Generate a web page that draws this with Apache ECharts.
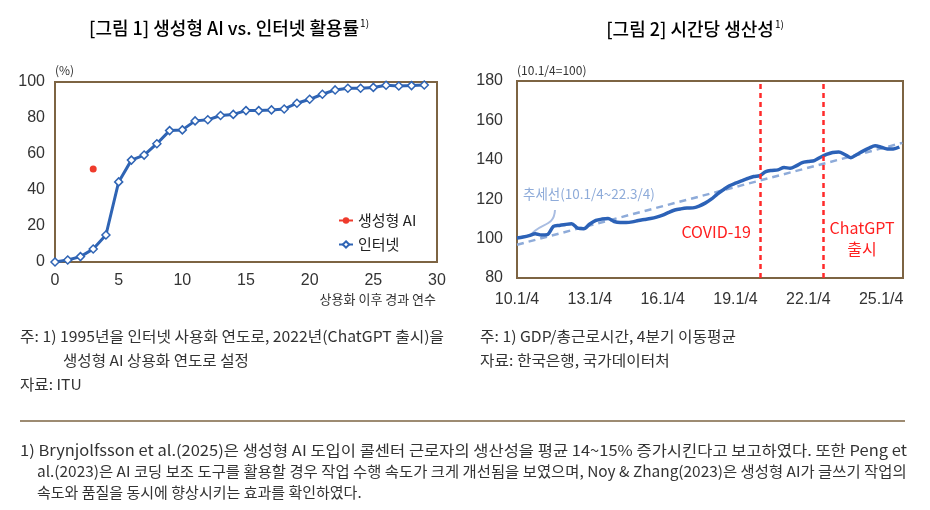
<!DOCTYPE html>
<html>
<head>
<meta charset="utf-8">
<script src="https://cdn.jsdelivr.net/npm/echarts@6/dist/echarts.min.js"></script>
<style>
  html, body { margin: 0; padding: 0; background: #fff; }
  #main { width: 930px; height: 510px; }
</style>
</head>
<body>
<div id="main"></div>
<script>
'use strict'
// [그림 1] 상용화 이후 경과 연수별 활용률 (%)
var yearsSince = [0, 1, 2, 3, 4, 5, 6, 7, 8, 9, 10, 11, 12, 13, 14, 15, 16, 17, 18, 19, 20, 21, 22, 23, 24, 25, 26, 27, 28, 29];
var internetRate = [0, 1.1, 3, 7.2, 15, 44.5, 56.6, 59.4, 65.7, 73, 73.4, 78.4, 79, 81.4, 82, 84.1, 84.1, 84.5, 85,
    88.2, 90.4, 93.2, 95.6, 96.5, 96.5, 97, 98.2, 97.8, 98, 98.3];
var genAiYear = 3;
var genAiRate = 51.7;

// [그림 2] 시간당 생산성 (10.1/4=100), 10.1/4 부터 분기
var productivity = [100.3, 100.8, 101.5, 102.5, 101.8, 102, 106.2, 106.7, 107.2, 107.5,
    105.3, 105, 107.4, 109.2, 109.9, 110.2, 108.7, 108.2, 108.2, 108.5,
    109.2, 109.7, 110.2, 110.9, 111.9, 113.3, 114.5, 115.1, 115.5, 115.6,
    116.5, 118, 120, 122.6, 124.8, 126.8, 128.1, 129.3, 130.5, 131.5,
    132, 134, 134.6, 134.9, 136.1, 135.7, 136.9, 138.6, 139.1, 139.6,
    141.3, 142.7, 143.7, 143.9, 142.7, 141.1, 142.7, 144.4, 145.9, 147.1,
    146.4, 145.5, 145.5, 146.5];
var trendStart = [0, 96.9];
var trendEnd = [63.5, 148.6];
var eventQuarters = [40, 50.4]; // COVID-19, ChatGPT 출시
var firstYear = 10;

var textFont = '"Noto Sans CJK KR", sans-serif';
var numFont = '"Liberation Sans", Arial, sans-serif';
var titleColor = '#7a5a30';
var borderColor = '#7d6443';
var inkColor = '#333333';

var prodData = productivity.map(function (v, i) { return [i, v]; });
var internetData = yearsSince.map(function (y, i) { return [y, internetRate[i]]; });

// 본문 텍스트 (가로 폭 맞춤용 scaleX)
function note(x, y, text, size, sx) {
    return {
        type: 'text', silent: true, x: x, y: y, scaleX: sx || 1,
        style: { x: 0, y: 0, text: text, fontSize: size, fill: inkColor, fontFamily: textFont, verticalAlign: 'middle' }
    };
}

function title(x, y, text) {
    return {
        type: 'text', silent: true,
        style: {
            x: x, y: y, align: 'center', verticalAlign: 'middle',
            text: '{t|' + text + '}{s|1)}',
            rich: {
                t: { fontSize: 18, color: titleColor, fontFamily: textFont, fontWeight: 500 },
                s: { fontSize: 10, color: titleColor, fontFamily: textFont, verticalAlign: 'top', padding: [0, 0, 10, 1] }
            }
        }
    };
}

var option = {
    backgroundColor: '#ffffff',
    animation: false,
    textStyle: { fontFamily: textFont },
    legend: {
        left: 333,
        top: 208,
        orient: 'vertical',
        itemWidth: 14,
        itemHeight: 8,
        itemGap: 9,
        textStyle: { fontSize: 15, color: '#222', fontFamily: textFont },
        data: ['생성형 AI', '인터넷']
    },
    grid: [
        { left: 55, top: 82, width: 382, height: 180, show: true, borderColor: borderColor, borderWidth: 2, backgroundColor: '#fff' },
        { left: 517, top: 81, width: 386, height: 197, show: true, borderColor: borderColor, borderWidth: 2, backgroundColor: '#fff' }
    ],
    xAxis: [
        {
            gridIndex: 0, type: 'value', min: 0, max: 30, interval: 5,
            axisLine: { show: false }, axisTick: { show: false }, splitLine: { show: false },
            axisLabel: { fontSize: 16, color: inkColor, margin: 11, fontFamily: numFont }
        },
        {
            gridIndex: 1, type: 'value', min: 0, max: 63.6, interval: 12,
            axisLine: { show: false }, axisTick: { show: false }, splitLine: { show: false },
            axisLabel: {
                fontSize: 16, color: inkColor, margin: 14, fontFamily: numFont, showMaxLabel: false,
                formatter: function (v) { return (firstYear + v / 4) + '.1/4'; }
            }
        }
    ],
    yAxis: [
        {
            gridIndex: 0, type: 'value', min: 0, max: 100, interval: 20,
            axisLine: { show: false }, axisTick: { show: false }, splitLine: { show: false },
            axisLabel: { fontSize: 16, color: inkColor, margin: 10, fontFamily: numFont }
        },
        {
            gridIndex: 1, type: 'value', min: 80, max: 180, interval: 20,
            axisLine: { show: false }, axisTick: { show: false }, splitLine: { show: false },
            axisLabel: { fontSize: 16, color: inkColor, margin: 14, fontFamily: numFont }
        }
    ],
    series: [
        {
            name: '생성형 AI',
            type: 'line',
            xAxisIndex: 0, yAxisIndex: 0,
            symbol: 'circle', symbolSize: 7,
            itemStyle: { color: '#ef3b2c' },
            lineStyle: { color: '#ef3b2c', width: 2 },
            data: [[genAiYear, genAiRate]]
        },
        {
            name: '인터넷',
            type: 'line',
            xAxisIndex: 0, yAxisIndex: 0,
            symbol: 'diamond', symbolSize: 8,
            itemStyle: { color: '#ffffff', borderColor: '#2f64b4', borderWidth: 1.5 },
            lineStyle: { color: '#2f64b4', width: 3 },
            data: internetData
        },
        {
            name: '추세선',
            type: 'line',
            xAxisIndex: 1, yAxisIndex: 1,
            symbol: 'none',
            lineStyle: { color: '#8eabd9', width: 2.5, type: [7, 5] },
            data: [trendStart, trendEnd],
            z: 3
        },
        {
            name: '시간당 생산성',
            type: 'line',
            xAxisIndex: 1, yAxisIndex: 1,
            symbol: 'none',
            smooth: 0.3,
            lineStyle: { color: '#2c62b7', width: 3.5 },
            data: prodData,
            z: 4,
            markLine: {
                silent: true,
                symbol: 'none',
                label: { show: false },
                lineStyle: { color: '#ff2a2a', width: 2.5, type: [5, 4] },
                data: eventQuarters.map(function (q) { return { xAxis: q }; })
            }
        }
    ],
    graphic: [
        title(229, 28, '[그림 1] 생성형 AI vs. 인터넷 활용률'),
        title(695, 29, '[그림 2] 시간당 생산성'),
        // unit labels
        { type: 'text', silent: true, style: { x: 55, y: 70, text: '(%)', fontSize: 12, fill: inkColor, fontFamily: textFont, verticalAlign: 'middle' } },
        { type: 'text', silent: true, style: { x: 517, y: 70, text: '(10.1/4=100)', fontSize: 12, fill: inkColor, fontFamily: textFont, verticalAlign: 'middle' } },
        { type: 'text', silent: true, style: { x: 436, y: 299, text: '상용화 이후 경과 연수', fontSize: 13, fill: inkColor, fontFamily: textFont, align: 'right', verticalAlign: 'middle' } },
        // right chart annotations
        { type: 'text', silent: true, style: { x: 523, y: 194, text: '추세선(10.1/4~22.3/4)', fontSize: 13.5, fill: '#8eabd9', fontFamily: textFont, verticalAlign: 'middle' } },
        {
            type: 'bezierCurve', silent: true,
            shape: { x1: 530, y1: 236, cpx1: 540, cpy1: 222, cpx2: 554, cpy2: 228, x2: 555, y2: 210 },
            style: { stroke: '#a9bde2', lineWidth: 2, fill: null }
        },
        { type: 'text', silent: true, style: { x: 751, y: 232, text: 'COVID-19', fontSize: 16, fill: '#ff2020', fontFamily: textFont, align: 'right', verticalAlign: 'middle' } },
        { type: 'text', silent: true, style: { x: 862, y: 238, text: 'ChatGPT\n출시', fontSize: 16, lineHeight: 21, fill: '#ff2020', fontFamily: textFont, align: 'center', verticalAlign: 'middle' } },
        // notes
        note(20, 336, '주: 1) 1995년을 인터넷 사용화 연도로, 2022년(ChatGPT 출시)을', 15, 1.05),
        note(63, 360, '생성형 AI 상용화 연도로 설정', 15, 1.04),
        note(20, 384, '자료: ITU', 15, 1.04),
        note(480, 336, '주: 1) GDP/총근로시간, 4분기 이동평균', 15, 1.05),
        note(480, 360, '자료: 한국은행, 국가데이터처', 15, 1.05),
        // separator + footnote
        { type: 'line', silent: true, shape: { x1: 20, y1: 421, x2: 905, y2: 421 }, style: { stroke: borderColor, lineWidth: 1.5 } },
        note(20, 450, '1) Brynjolfsson et al.(2025)은 생성형 AI 도입이 콜센터 근로자의 생산성을 평균 14~15% 증가시킨다고 보고하였다. 또한 Peng et', 15, 1.10),
        note(37, 471, 'al.(2023)은 AI 코딩 보조 도구를 활용할 경우 작업 수행 속도가 크게 개선됨을 보였으며, Noy & Zhang(2023)은 생성형 AI가 글쓰기 작업의', 15, 1.027),
        note(37, 492, '속도와 품질을 동시에 향상시키는 효과를 확인하였다.', 15, 1.0)
    ]
};

var myChart = echarts.init(document.getElementById('main'));
myChart.setOption(option);
</script>
</body>
</html>
